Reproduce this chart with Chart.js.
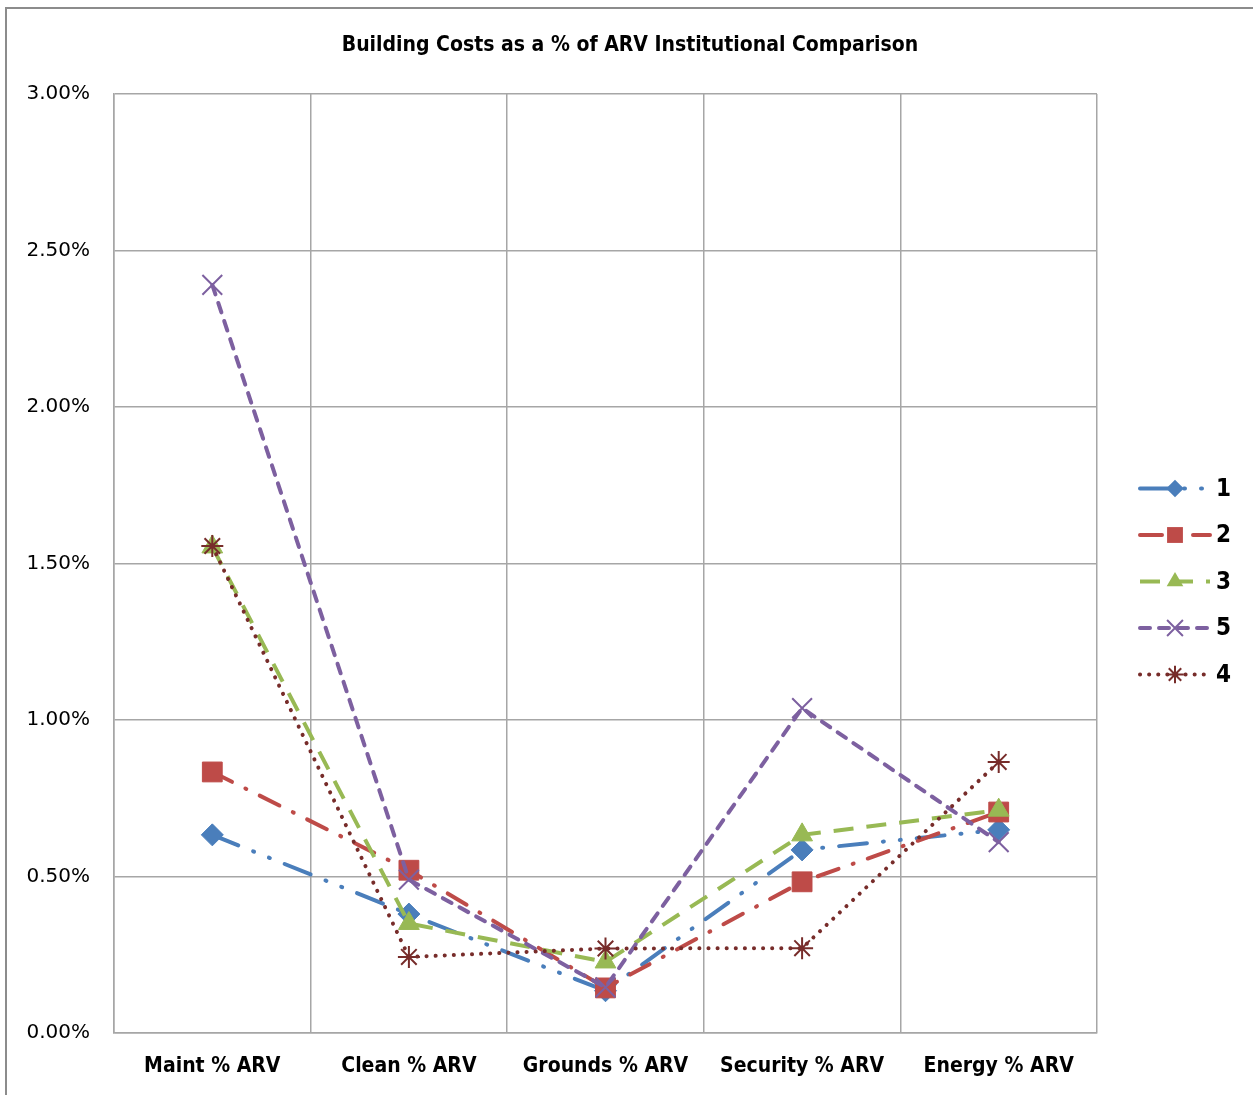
<!DOCTYPE html>
<html>
<head>
<meta charset="utf-8">
<script src="https://cdn.jsdelivr.net/npm/chart.js@4.4.1/dist/chart.umd.min.js"></script>
<style>
  html, body { margin: 0; padding: 0; background: #fff; }
  #wrap { width: 1253px; height: 1095px; }
</style>
</head>
<body>
<div id="wrap"><canvas id="costChart" width="1253" height="1095"></canvas></div>
<script>
// values are percent of ARV
const categories = ['Maint % ARV', 'Clean % ARV', 'Grounds % ARV', 'Security % ARV', 'Energy % ARV'];
const series1 = [0.633, 0.38, 0.135, 0.585, 0.649];
const series2 = [0.834, 0.52, 0.144, 0.483, 0.706];
const series3 = [1.553, 0.35, 0.227, 0.633, 0.712];
const series5 = [2.39, 0.49, 0.146, 1.038, 0.61];
const series4 = [1.556, 0.243, 0.27, 0.271, 0.866];
const seriesNames = ['1', '2', '3', '5', '4'];
const chartTitle = 'Building Costs as a % of ARV Institutional Comparison';

const narrow = "'DejaVu Sans Condensed', 'Liberation Sans', sans-serif";

function makeSet(label, data, color, dash, pointStyle, radius, pointBorder, cap, idx) {
    return {
        label: label,
        data: data,
        borderColor: color,
        backgroundColor: color,
        pointBackgroundColor: color,
        pointBorderColor: color,
        borderWidth: 4,
        borderDash: dash,
        borderCapStyle: cap,
        pointStyle: pointStyle,
        pointRadius: radius,
        pointHoverRadius: radius,
        pointBorderWidth: pointBorder,
        tension: 0,
        fill: false,
        order: 5 - idx
    };
}

const datasets = [
    makeSet(seriesNames[0], series1, '#4a7ebb', [28, 16, 1, 16, 1, 16], 'rectRot', 11, 1, 'round', 0),
    makeSet(seriesNames[1], series2, '#be4b48', [22, 15, 1, 15], 'rect', 14, 1, 'round', 1),
    makeSet(seriesNames[2], series3, '#98b954', [20, 13], 'triangle', 12, 1, 'butt', 2),
    makeSet(seriesNames[3], series5, '#7d60a0', [10, 9], 'crossRot', 14, 2, 'round', 3),
    makeSet(seriesNames[4], series4, '#772c2a', [0.1, 9], 'star', 11, 2, 'round', 4)
];

// draw a small marker for the legend
function drawMarker(ctx, style, x, y, r, color, bw) {
    ctx.save();
    ctx.fillStyle = color;
    ctx.strokeStyle = color;
    ctx.lineWidth = bw;
    ctx.setLineDash([]);
    ctx.beginPath();
    if (style === 'rectRot') {
        ctx.moveTo(x, y - r); ctx.lineTo(x + r, y); ctx.lineTo(x, y + r); ctx.lineTo(x - r, y);
        ctx.closePath(); ctx.fill();
    } else if (style === 'rect') {
        const s = r * Math.SQRT1_2;
        ctx.rect(x - s, y - s, 2 * s, 2 * s); ctx.fill();
    } else if (style === 'triangle') {
        ctx.moveTo(x, y - r);
        ctx.lineTo(x + r * 0.866, y + r * 0.5);
        ctx.lineTo(x - r * 0.866, y + r * 0.5);
        ctx.closePath(); ctx.fill();
    } else if (style === 'crossRot') {
        const o = r * Math.SQRT1_2;
        ctx.moveTo(x - o, y - o); ctx.lineTo(x + o, y + o);
        ctx.moveTo(x - o, y + o); ctx.lineTo(x + o, y - o);
        ctx.stroke();
    } else if (style === 'star') {
        const o = r * Math.SQRT1_2;
        ctx.moveTo(x - r, y); ctx.lineTo(x + r, y);
        ctx.moveTo(x, y - r); ctx.lineTo(x, y + r);
        ctx.moveTo(x - o, y - o); ctx.lineTo(x + o, y + o);
        ctx.moveTo(x - o, y + o); ctx.lineTo(x + o, y - o);
        ctx.stroke();
    }
    ctx.restore();
}

const frameAndLegend = {
    id: 'frameAndLegend',
    beforeDraw(chart) {
        const ctx = chart.ctx;
        ctx.save();
        ctx.strokeStyle = '#8c8c8c';
        ctx.lineWidth = 2;
        ctx.beginPath();
        ctx.moveTo(6, chart.height);
        ctx.lineTo(6, 8);
        ctx.lineTo(chart.width, 8);
        ctx.stroke();
        // title
        ctx.fillStyle = '#000';
        ctx.font = 'bold 21px ' + narrow;
        ctx.textAlign = 'center';
        ctx.textBaseline = 'middle';
        ctx.fillText(chartTitle, 630, 46);
        ctx.restore();
    },
    afterDraw(chart) {
        const ctx = chart.ctx;
        const area = chart.chartArea;
        const x0 = area.right + 43;
        const x1 = area.right + 113;
        const mid = (x0 + x1) / 2;
        const rowGap = 46.5;
        const firstRow = (area.top + area.bottom) / 2 - 2 * rowGap + 18;
        chart.data.datasets.forEach(function (ds, i) {
            const y = firstRow + i * rowGap;
            ctx.save();
            ctx.strokeStyle = ds.borderColor;
            ctx.lineWidth = ds.borderWidth;
            ctx.lineCap = ds.borderCapStyle;
            ctx.setLineDash(ds.borderDash);
            ctx.beginPath();
            ctx.moveTo(x0, y);
            ctx.lineTo(x1, y);
            ctx.stroke();
            ctx.restore();
            drawMarker(ctx, ds.pointStyle, mid, y, ds.pointRadius * 0.8, ds.borderColor, ds.pointBorderWidth);
            ctx.save();
            ctx.fillStyle = '#000';
            ctx.font = 'bold 24px ' + narrow;
            ctx.textBaseline = 'middle';
            ctx.fillText(ds.label, x1 + 6, y + 1);
            ctx.restore();
        });
    }
};

const ctx = document.getElementById('costChart').getContext('2d');
const costChart = new Chart(ctx, {
    type: 'line',
    data: {
        labels: categories,
        datasets: datasets
    },
    options: {
        responsive: false,
        animation: false,
        devicePixelRatio: 1,
        layout: { padding: { left: 0, right: 156, top: 94, bottom: 0 } },
        plugins: {
            legend: { display: false },
            tooltip: { enabled: false },
            title: { display: false }
        },
        scales: {
            x: {
                offset: true,
                grid: { offset: true, color: '#a6a6a6', lineWidth: 1.5, drawTicks: false },
                border: { display: true, color: '#a6a6a6', width: 1.5 },
                ticks: {
                    color: '#000',
                    padding: 21,
                    maxRotation: 0,
                    autoSkip: false,
                    font: { family: narrow, size: 21, weight: 'bold' }
                },
                afterFit(scale) { scale.height = 62; }
            },
            y: {
                min: 0,
                max: 3,
                grid: { color: '#a6a6a6', lineWidth: 1.5, drawTicks: false },
                border: { display: true, color: '#a6a6a6', width: 1.5 },
                ticks: {
                    stepSize: 0.5,
                    color: '#000',
                    padding: 24,
                    font: { family: "'DejaVu Sans', sans-serif", size: 20 },
                    callback: function (v) { return v.toFixed(2) + '%'; }
                },
                afterFit(scale) { scale.width = 114; }
            }
        }
    },
    plugins: [frameAndLegend]
});
</script>
</body>
</html>
